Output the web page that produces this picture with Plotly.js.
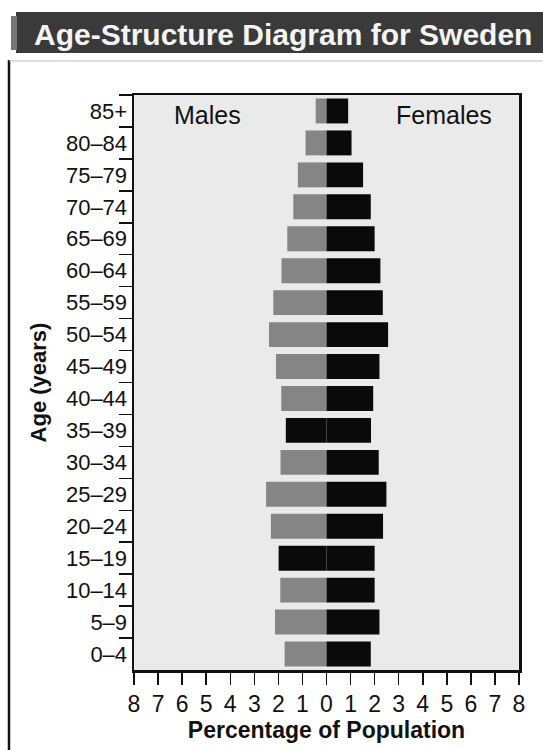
<!DOCTYPE html>
<html>
<head>
<meta charset="utf-8">
<script src="https://cdn.plot.ly/plotly-3.0.1.min.js"></script>
<style>html,body{margin:0;padding:0;background:#fff;}#chart{width:543px;height:750px;}</style>
</head>
<body>
<div id="chart"></div>
<script>
// Age groups, listed top to bottom as in the chart
const ageGroups = ["85+","80–84","75–79","70–74","65–69","60–64","55–59","50–54","45–49","40–44","35–39","30–34","25–29","20–24","15–19","10–14","5–9","0–4"];
// Percentage of population
const malesPct   = [0.45,0.87,1.19,1.38,1.63,1.87,2.21,2.39,2.10,1.88,1.69,1.91,2.51,2.31,1.99,1.92,2.14,1.74];
const femalesPct = [0.90,1.04,1.52,1.84,2.00,2.24,2.34,2.56,2.20,1.94,1.85,2.17,2.49,2.35,2.00,2.00,2.20,1.84];
// x-axis tick values and labels
const xTickVals = [-8,-7,-6,-5,-4,-3,-2,-1,0,1,2,3,4,5,6,7,8];
const xTickText = ["8","7","6","5","4","3","2","1","0","1","2","3","4","5","6","7","8"];

// groups printed fully black in the original
const darkGroups = ["35–39","15–19"];
const maleColors = ageGroups.map(g => darkGroups.includes(g) ? "#0a0a0a" : "#858585");

const FONT = "Liberation Sans, Arial, Helvetica, sans-serif";

const traces = [
  {type:"bar", orientation:"h", y:ageGroups, x:malesPct.map(v=>-v), name:"Males",
   marker:{color:maleColors, line:{width:0}}, hoverinfo:"skip"},
  {type:"bar", orientation:"h", y:ageGroups, x:femalesPct, name:"Females",
   marker:{color:"#0a0a0a", line:{width:0}}, hoverinfo:"skip"}
];

// plot area: x 134..519, y 95..670
const L=134, R=519, T=95, B=670;
const px = v => (v-L)/(R-L);
const py = v => (B-v)/(B-T);

const layout = {
  width:543, height:750,
  margin:{l:L, r:543-R, t:T, b:750-B, pad:0},
  paper_bgcolor:"#ffffff",
  plot_bgcolor:"#eaeaea",
  barmode:"relative",
  bargap:0.22,
  showlegend:false,
  font:{family:FONT, color:"#111", size:22},
  title:{text:"<b>Age-Structure Diagram for Sweden</b>", font:{family:FONT, size:30, color:"#f4f4f4"},
         x:34/543, xanchor:"left", xref:"container", y:1-34/750, yanchor:"middle", yref:"container"},
  xaxis:{range:[-8,8], tickvals:xTickVals, ticktext:xTickText, ticks:"outside", ticklen:12, tickwidth:1.5,
         tickcolor:"#111", showline:true, linecolor:"#111", linewidth:2.5, mirror:true,
         showgrid:false, zeroline:false, fixedrange:true,
         tickfont:{family:FONT, size:23, color:"#111"},
         title:{text:"<b>Percentage of Population</b>", font:{family:FONT, size:23, color:"#111"}, standoff:0}},
  yaxis:{type:"category", autorange:"reversed", ticks:"outside", tickson:"boundaries", ticklen:13, tickwidth:1.5,
         tickcolor:"#111", showline:true, linecolor:"#111", linewidth:2.5, mirror:true,
         showgrid:false, zeroline:false, fixedrange:true,
         tickfont:{family:FONT, size:22, color:"#111"},
         title:{text:"<b>Age (years)</b>", font:{family:FONT, size:22, color:"#111"}, standoff:13}},
  shapes:[
    {type:"rect", xref:"paper", yref:"paper", x0:px(16), x1:px(543), y0:py(53), y1:py(12),
     fillcolor:"#3a3a3a", line:{width:0}, layer:"below"},
    {type:"rect", xref:"paper", yref:"paper", x0:px(11), x1:px(17), y0:py(50), y1:py(16),
     fillcolor:"#777777", line:{width:0}, layer:"below"},
    {type:"line", xref:"paper", yref:"paper", x0:px(9), x1:px(9), y0:py(60), y1:py(750),
     line:{color:"#111", width:2.5}},
    {type:"line", xref:"paper", yref:"paper", x0:px(9), x1:px(543), y0:py(61), y1:py(61),
     line:{color:"#bbbbbb", width:1}}
  ],
  annotations:[
    {text:"Males", xref:"paper", yref:"paper", x:px(207), y:py(115), xanchor:"center", yanchor:"middle",
     showarrow:false, font:{family:FONT, size:25, color:"#111"}},
    {text:"Females", xref:"paper", yref:"paper", x:px(444), y:py(115), xanchor:"center", yanchor:"middle",
     showarrow:false, font:{family:FONT, size:25, color:"#111"}}
  ]
};

Plotly.newPlot("chart", traces, layout, {staticPlot:true, displayModeBar:false});
</script>
</body>
</html>
